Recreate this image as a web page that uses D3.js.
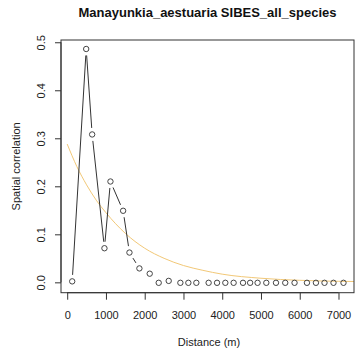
<!DOCTYPE html>
<html><head><meta charset="utf-8">
<script src="https://cdn.jsdelivr.net/npm/d3@7"></script>
<style>body{margin:0;background:#fff}svg{display:block;font-family:"Liberation Sans",Arial,sans-serif}</style>
</head><body>
<svg id="c" width="355" height="358"></svg>
<script>
const title = "Manayunkia_aestuaria SIBES_all_species";
const xLabel = "Distance (m)";
const yLabel = "Spatial correlation";
const distances = [129, 490, 644, 961, 1116, 1443, 1606, 1863, 2129, 2361, 2619, 2920, 3126, 3332, 3649, 3866, 4080, 4294, 4536, 4720, 4912, 5137, 5387, 5626, 5866, 6186, 6418, 6639, 6871, 7129];
const correlations = [0.002, 0.486, 0.308, 0.071, 0.210, 0.149, 0.062, 0.029, 0.018, -0.001, 0.003, -0.001, -0.001, -0.001, -0.001, -0.001, -0.001, -0.001, -0.001, -0.001, -0.001, -0.001, -0.001, -0.001, -0.001, -0.001, -0.001, -0.001, -0.001, -0.001];
const modelDist = [0, 250, 500, 750, 1000, 1500, 2000, 2500, 3000, 3500, 4000, 5000, 6000, 7000, 7400];
const modelCorr = [0.288, 0.241, 0.203, 0.171, 0.145, 0.102, 0.071, 0.050, 0.035, 0.025, 0.017, 0.0085, 0.0042, 0.0021, 0.0017];
const xTicks = [0, 1000, 2000, 3000, 4000, 5000, 6000, 7000];
const yTicks = [0.0, 0.1, 0.2, 0.3, 0.4, 0.5];

const svg = d3.select("#c");
const L = 61, R = 354, T = 40, B = 292.7;
const x = d3.scaleLinear().domain([-160, 7400]).range([L, R]);
const y = d3.scaleLinear().domain([-0.0216, 0.5047]).range([B, T]);
const ink = "#333";

// model curve
svg.append("path")
  .datum(modelDist.map((d, i) => [d, modelCorr[i]]))
  .attr("fill", "none").attr("stroke", "#f2c877").attr("stroke-width", 1)
  .attr("d", d3.line().x(d => x(d[0])).y(d => y(d[1])).curve(d3.curveMonotoneX));

// type="b" segments with gaps
const pts = distances.map((d, i) => [x(d), y(correlations[i])]);
const gap = 6.5;
for (let i = 0; i < pts.length - 1; i++) {
  const [x1, y1] = pts[i], [x2, y2] = pts[i + 1];
  const len = Math.hypot(x2 - x1, y2 - y1);
  if (len <= 2 * gap) continue;
  const ux = (x2 - x1) / len, uy = (y2 - y1) / len;
  svg.append("line")
    .attr("x1", x1 + ux * gap).attr("y1", y1 + uy * gap)
    .attr("x2", x2 - ux * gap).attr("y2", y2 - uy * gap)
    .attr("stroke", ink).attr("stroke-width", 1);
}
svg.append("g").selectAll("circle").data(distances).join("circle")
  .attr("cx", d => x(d)).attr("cy", (d, i) => y(correlations[i])).attr("r", 2.7)
  .attr("fill", "none").attr("stroke", "#444").attr("stroke-width", 1);

// box
svg.append("rect").attr("x", L).attr("y", T).attr("width", R - L).attr("height", B - T)
  .attr("fill", "none").attr("stroke", ink).attr("stroke-width", 1);

// axes
const xa = svg.append("g").attr("transform", `translate(0,${B})`)
  .call(d3.axisBottom(x).tickValues(xTicks).tickFormat(d3.format("d")).tickSize(7).tickPadding(12));
xa.select(".domain").attr("d", `M${x(0)},0H${x(7000)}`).attr("stroke", ink);
xa.selectAll(".tick line").attr("stroke", ink);
xa.selectAll("text").attr("font-size", 11).attr("fill", "#222").attr("font-family", null);

const ya = svg.append("g").attr("transform", `translate(${L},0)`)
  .call(d3.axisLeft(y).tickValues(yTicks).tickFormat(d3.format(".1f")).tickSize(6));
ya.select(".domain").attr("d", `M0,${y(0)}V${y(0.5)}`).attr("stroke", ink);
ya.selectAll(".tick line").attr("stroke", ink);
ya.selectAll(".tick text")
  .attr("font-size", 11).attr("fill", "#222").attr("font-family", null)
  .attr("x", null).attr("dy", null)
  .attr("text-anchor", "middle")
  .attr("transform", "translate(-16.5,0) rotate(-90)");

// labels
svg.append("text").attr("x", (L + R) / 2).attr("y", 17).attr("text-anchor", "middle")
  .attr("font-size", 13).attr("font-weight", "bold").attr("fill", "#111").text(title);
svg.append("text").attr("x", 209).attr("y", 345.5).attr("text-anchor", "middle")
  .attr("font-size", 11).attr("fill", "#222").text(xLabel);
svg.append("text").attr("transform", `translate(19.5,${(T + B) / 2}) rotate(-90)`)
  .attr("text-anchor", "middle").attr("font-size", 11).attr("fill", "#222").text(yLabel);
</script>
</body></html>
